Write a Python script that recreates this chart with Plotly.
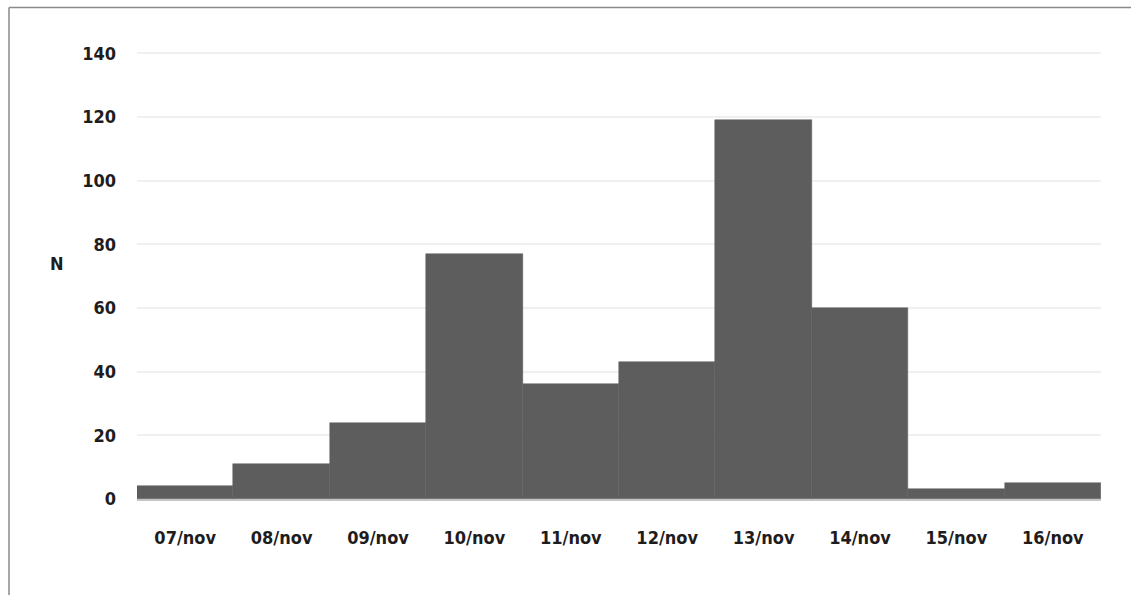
import plotly.graph_objects as go

days = ["07/nov", "08/nov", "09/nov", "10/nov", "11/nov", "12/nov", "13/nov", "14/nov", "15/nov", "16/nov"]
counts = [4, 11, 24, 77, 36, 43, 119, 60, 3, 5]
y_ticks = [0, 20, 40, 60, 80, 100, 120, 140]

FONT = "DejaVu Sans Condensed"
tick_font = dict(family=FONT, size=18, color="#1e1c1d", weight="bold")

fig = go.Figure(
    go.Bar(
        x=days,
        y=counts,
        marker=dict(color="#5d5d5d", line=dict(color="#5d5d5d", width=0.5)),
        hoverinfo="x+y",
    )
)

fig.update_layout(
    width=1131,
    height=595,
    margin=dict(l=137, r=30, t=51, b=96),
    paper_bgcolor="white",
    plot_bgcolor="white",
    bargap=0,
    showlegend=False,
    font=tick_font,
    xaxis=dict(
        type="category",
        showgrid=False,
        showline=True,
        linecolor="#c4c4c4",
        linewidth=2,
        ticks="",
        ticklabelstandoff=21,
        tickfont=tick_font,
    ),
    yaxis=dict(
        range=[0, 140.7],
        tickvals=y_ticks,
        showgrid=True,
        gridcolor="#f0f0f0",
        gridwidth=2,
        zeroline=False,
        ticks="",
        ticklabelstandoff=20,
        tickfont=tick_font,
    ),
    annotations=[
        dict(
            text="N",
            xref="paper",
            yref="paper",
            x=-0.092,
            y=0.525,
            showarrow=False,
            font=tick_font,
        )
    ],
    shapes=[
        dict(type="line", xref="paper", yref="paper", x0=-0.1328, x1=1.05, y0=1.097, y1=1.097,
             line=dict(color="#8a8a8a", width=1.5)),
        dict(type="line", xref="paper", yref="paper", x0=-0.1328, x1=-0.1328, y0=1.097, y1=-0.25,
             line=dict(color="#8a8a8a", width=1.5)),
    ],
)

fig.write_html("out.html", config={"displayModeBar": False},
               post_script="document.body.style.margin='0px';")
